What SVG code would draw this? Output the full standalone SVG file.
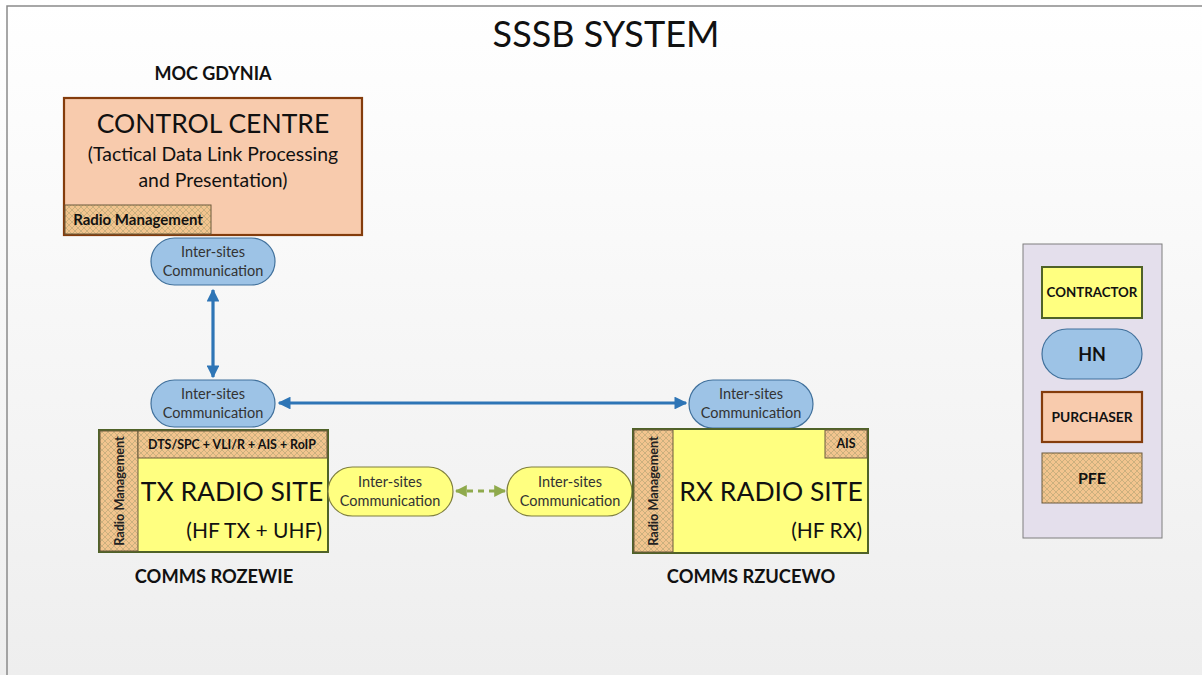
<svg xmlns="http://www.w3.org/2000/svg" width="1202" height="675" viewBox="0 0 1202 675">
<defs>
<linearGradient id="bg" x1="0" y1="0" x2="0" y2="1">
<stop offset="0" stop-color="#ffffff"/>
<stop offset="1" stop-color="#eeeeee"/>
</linearGradient>
<pattern id="hatch" width="6" height="6" patternUnits="userSpaceOnUse">
<rect width="6" height="6" fill="#F2C48E"/>
<path d="M0,0 L6,6 M6,0 L0,6" stroke="#CBB07E" stroke-width="1"/>
</pattern>
<marker id="ab" viewBox="0 0 10 10" refX="9" refY="5" markerWidth="4" markerHeight="4" orient="auto-start-reverse">
<path d="M0,0 L10,5 L0,10 z" fill="#2E75B6"/>
</marker>
<marker id="ag" viewBox="0 0 10 10" refX="9" refY="5" markerWidth="4" markerHeight="4" orient="auto-start-reverse">
<path d="M0,0 L10,5 L0,10 z" fill="#8FAA4C"/>
</marker>
</defs>
<style>
text{font-family:Lato,"Open Sans",sans-serif;fill:#111}
.b{font-weight:bold}
.pillB{fill:#9DC3E6;stroke:#41719C;stroke-width:1.2}
.pillY{fill:#FFFF80;stroke:#7F7F3F;stroke-width:1.2}
.pt{font-size:14.5px;fill:#333;text-anchor:middle}
.site{fill:#FFFF80;stroke:#4F6228;stroke-width:2}
.hatchbox{fill:url(#hatch);stroke:#6B5A3C;stroke-width:1}
.peach{fill:#F8CBAD;stroke:#843C0C;stroke-width:2.2}
</style>
<rect x="0" y="0" width="1202" height="675" fill="url(#bg)"/>
<path d="M7,675 L7,6 L1202,6" fill="none" stroke="#8a8a8a" stroke-width="1.5"/>

<text x="606" y="47" font-size="36" text-anchor="middle">SSSB SYSTEM</text>

<g id="moc">
<text x="213" y="80" font-size="18" class="b" text-anchor="middle">MOC GDYNIA</text>
<rect class="peach" x="64" y="98" width="298" height="137"/>
<text x="213" y="133" font-size="26.5" text-anchor="middle">CONTROL CENTRE</text>
<text x="213" y="161" font-size="19.4" text-anchor="middle">(Tactical Data Link Processing</text>
<text x="213" y="187" font-size="19.4" text-anchor="middle">and Presentation)</text>
<rect class="hatchbox" x="65" y="205" width="146" height="29"/>
<text x="138" y="225" font-size="15" class="b" text-anchor="middle">Radio Management</text>
</g>

<g id="pill-moc">
<rect class="pillB" x="151" y="238" width="124" height="47" rx="23.5"/>
<text class="pt" x="213" y="257">Inter-sites</text>
<text class="pt" x="213" y="276">Communication</text>
</g>

<g id="pill-tx-top">
<rect class="pillB" x="151" y="380" width="124" height="47" rx="23.5"/>
<text class="pt" x="213" y="399">Inter-sites</text>
<text class="pt" x="213" y="418">Communication</text>
</g>

<g id="pill-rx-top">
<rect class="pillB" x="689" y="380" width="124" height="48" rx="24"/>
<text class="pt" x="751" y="399">Inter-sites</text>
<text class="pt" x="751" y="418">Communication</text>
</g>

<g id="tx">
<rect class="site" x="99" y="430" width="229" height="122"/>
<rect class="hatchbox" x="100" y="431" width="38" height="120"/>
<rect class="hatchbox" x="138" y="431" width="189" height="27"/>
<text x="124" y="491" font-size="12.7" class="b" text-anchor="middle" transform="rotate(-90 124 491)" style="fill:#222">Radio Management</text>
<text x="232" y="449" font-size="12.4" class="b" text-anchor="middle">DTS/SPC + VLI/R + AIS + RoIP</text>
<text x="232" y="501" font-size="26.5" text-anchor="middle">TX RADIO SITE</text>
<text x="322" y="538" font-size="21" text-anchor="end">(HF TX + UHF)</text>
<text x="214" y="583" font-size="18.3" class="b" text-anchor="middle">COMMS ROZEWIE</text>
</g>

<g id="pill-tx-side">
<rect class="pillY" x="328" y="467" width="125" height="49" rx="24.5"/>
<text class="pt" x="390" y="487">Inter-sites</text>
<text class="pt" x="390" y="506">Communication</text>
</g>

<g id="pill-rx-side">
<rect class="pillY" x="507" y="467" width="125" height="49" rx="24.5"/>
<text class="pt" x="570" y="487">Inter-sites</text>
<text class="pt" x="570" y="506">Communication</text>
</g>

<g id="rx">
<rect class="site" x="633" y="429" width="235" height="124"/>
<rect class="hatchbox" x="634" y="430" width="39" height="122"/>
<rect class="hatchbox" x="825" y="430" width="42" height="28"/>
<text x="658" y="491" font-size="12.7" class="b" text-anchor="middle" transform="rotate(-90 658 491)" style="fill:#222">Radio Management</text>
<text x="846" y="448" font-size="12.4" class="b" text-anchor="middle">AIS</text>
<text x="771" y="501" font-size="26.5" text-anchor="middle">RX RADIO SITE</text>
<text x="862" y="538" font-size="21" text-anchor="end">(HF RX)</text>
<text x="751" y="583" font-size="18.3" class="b" text-anchor="middle">COMMS RZUCEWO</text>
</g>

<g id="legend">
<rect x="1023" y="244" width="139" height="294" fill="#E4DFEC" stroke="#7F7F7F" stroke-width="1"/>
<rect class="site" x="1042" y="267" width="100" height="51"/>
<text x="1092" y="297" font-size="13.3" class="b" text-anchor="middle">CONTRACTOR</text>
<rect class="pillB" x="1042" y="329" width="100" height="50" rx="25"/>
<text x="1092" y="361" font-size="18" class="b" text-anchor="middle">HN</text>
<rect class="peach" x="1042" y="392" width="100" height="50"/>
<text x="1092" y="422" font-size="13.8" class="b" text-anchor="middle">PURCHASER</text>
<rect class="hatchbox" x="1042" y="453" width="100" height="50" stroke="#8C8C8C"/>
<text x="1092" y="484" font-size="16" class="b" text-anchor="middle">PFE</text>
</g>

<g id="connectors">
<line x1="213" y1="290" x2="213" y2="377" stroke="#2E75B6" stroke-width="3.2" marker-start="url(#ab)" marker-end="url(#ab)"/>
<line x1="279" y1="403" x2="686" y2="403" stroke="#2E75B6" stroke-width="3.2" marker-start="url(#ab)" marker-end="url(#ab)"/>
<line x1="456" y1="491" x2="505" y2="491" stroke="#8FAA4C" stroke-width="3" stroke-dasharray="6,5" marker-start="url(#ag)" marker-end="url(#ag)"/>
</g>
</svg>
